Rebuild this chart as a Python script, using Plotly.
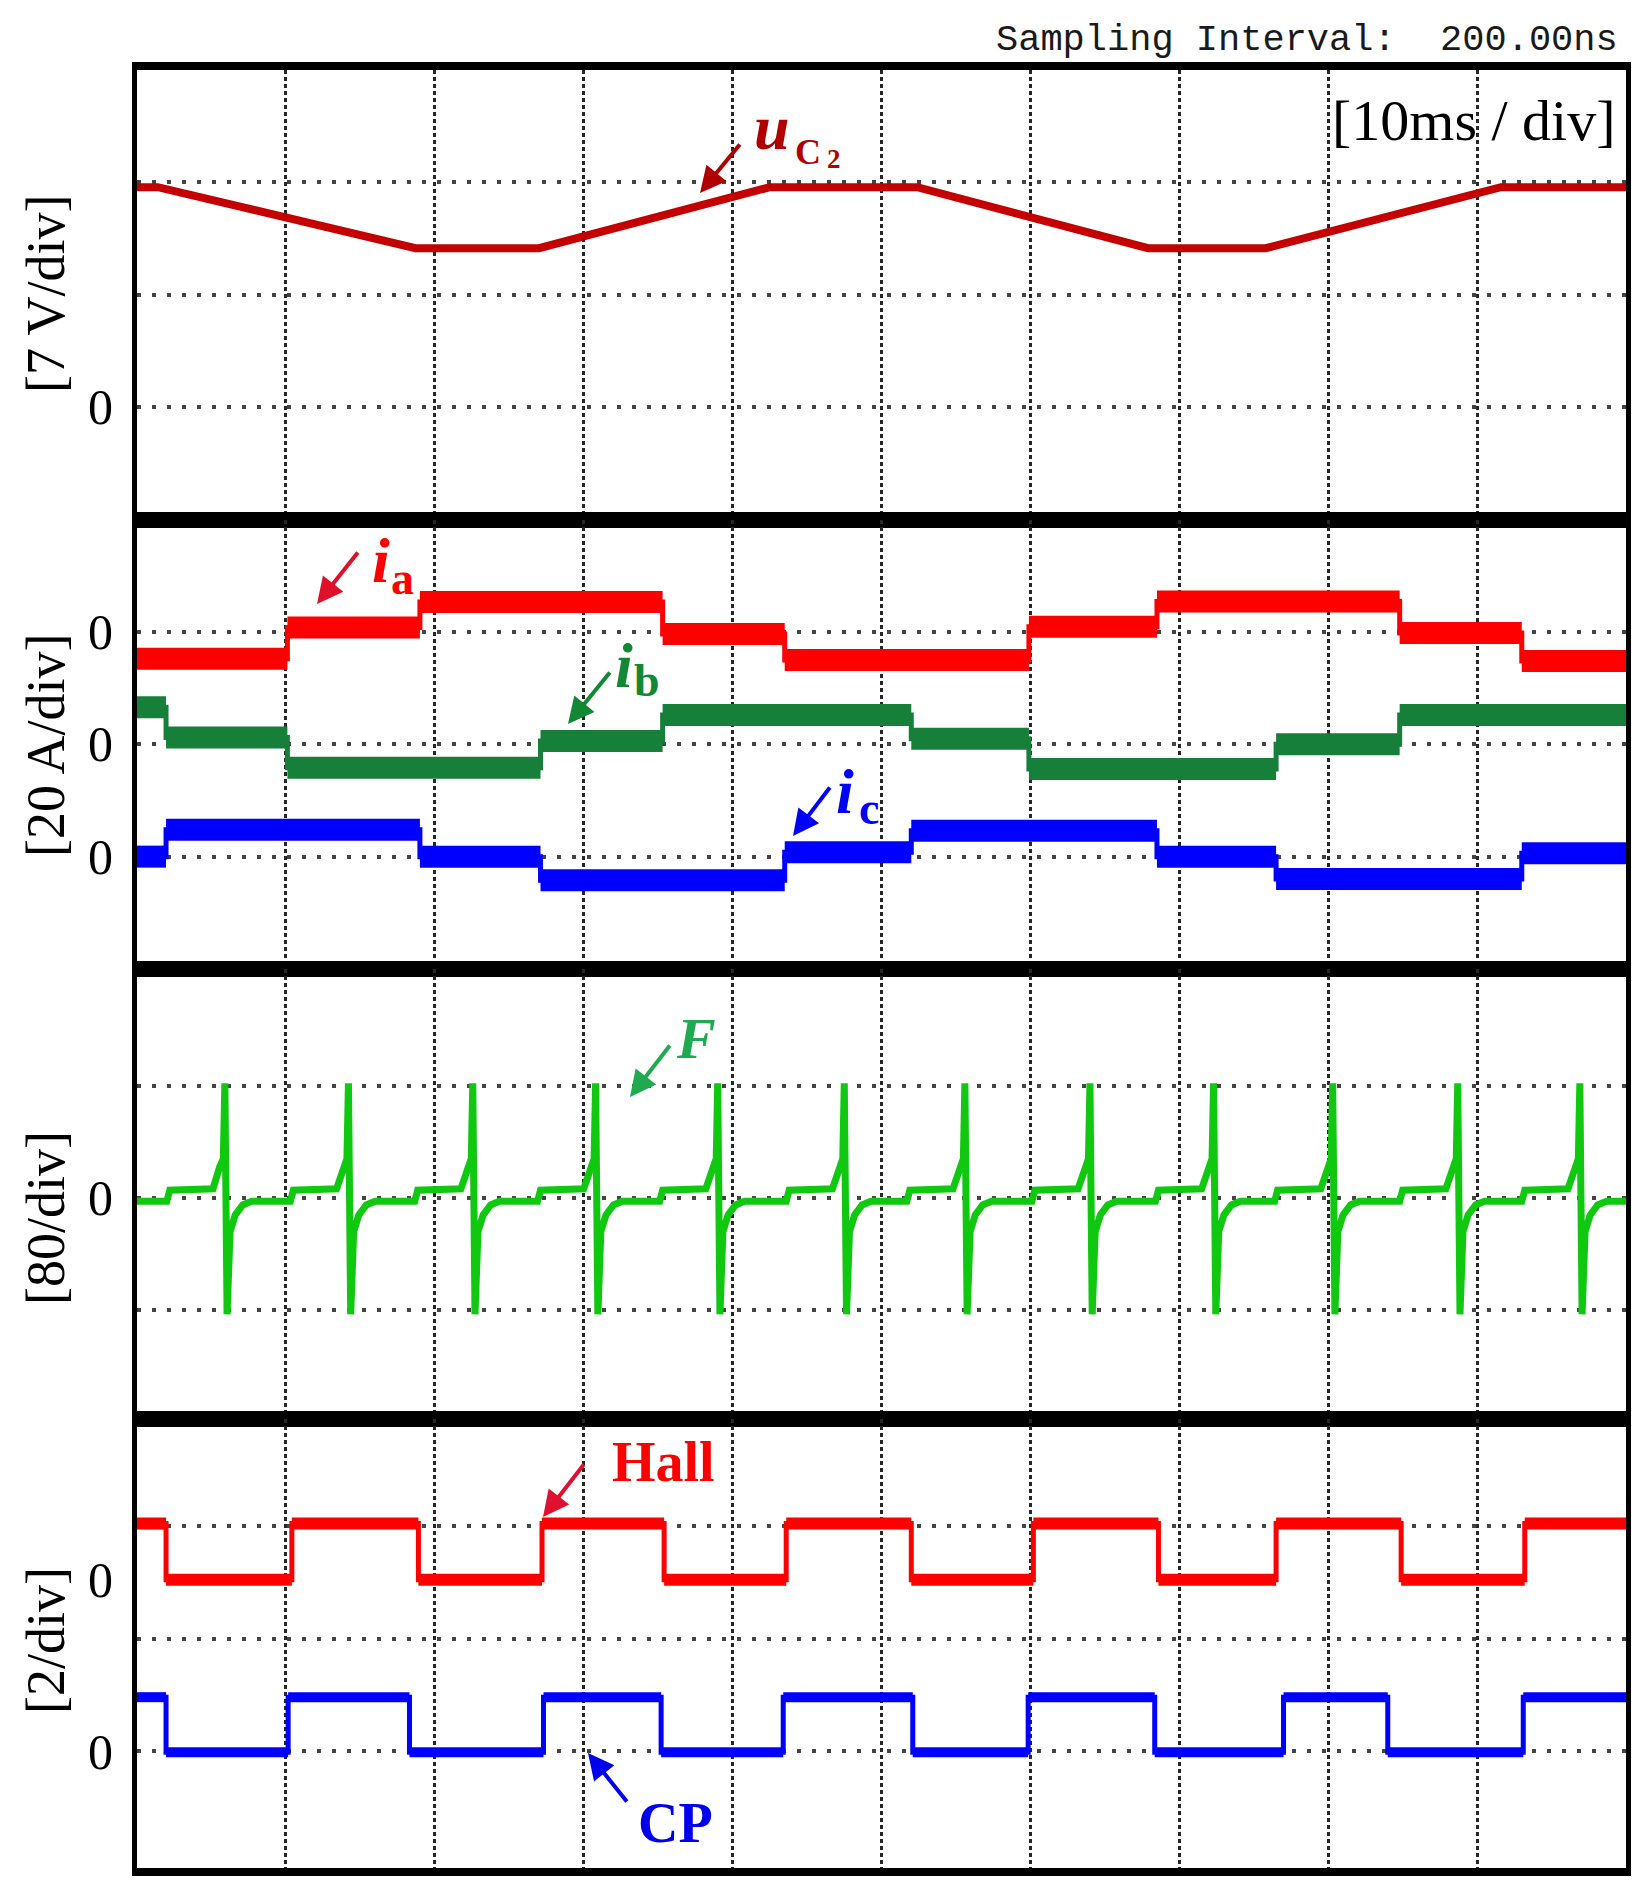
import plotly.graph_objects as go
from plotly.subplots import make_subplots

# ---------------- data ----------------
# time axis: 0..100 ms, 10 ms/div
T_RANGE = [0, 100]

# Panel 1: capacitor voltage u_C2 (V), 7 V/div
uc2_t = [0, 1.4, 18.7, 27.0, 42.5, 52.4, 67.9, 75.8, 91.6, 100]
uc2_v = [13.7, 13.7, 9.9, 9.9, 13.7, 13.7, 9.9, 9.9, 13.7, 13.7]

# Panel 2: phase currents (A), 20 A/div - six-step levels between commutation instants
cur_edges = [1.95, 10.1, 19.0, 27.1, 35.3, 43.5, 52.0, 59.9, 68.5, 76.5, 84.8, 93.0]
ia = [-4.8, -4.8, 0.8, 5.3, 5.3, -0.4, -5.0, -5.0, 0.9, 5.4, 5.4, -0.2, -5.2]
ib = [6.6, 1.2, -4.2, -4.2, 0.6, 5.2, 5.2, 1.0, -4.4, -4.4, 0.0, 5.2, 5.2]
ic = [0.0, 4.8, 4.8, 0.0, -4.2, -4.2, 0.8, 4.6, 4.6, 0.0, -4.0, -4.0, 0.6]

# Panel 3: signal F (80/div): spike instants and one read pulse shape around a spike
f_spike_t = [5.9, 14.2, 22.55, 30.8, 39.0, 47.5, 55.6, 64.0, 72.3, 80.3, 88.7, 96.9]
f_base = -2.4
f_shape_dt = [-3.9, -3.7, -0.8, -0.35, -0.1, 0.0, 0.15, 0.35, 0.7, 1.2, 1.8]
f_shape_v = [-2.4, 5.5, 6.5, 22.0, 28.0, 81.6, -82.8, -24.0, -12.0, -5.0, -2.4]

# Panel 4: Hall and CP logic signals (2/div)
hall_edges = [1.95, 10.4, 18.9, 27.2, 35.4, 43.6, 52.0, 60.2, 68.6, 76.5, 84.9, 93.2]
hall = [1.0, 0.0, 1.0, 0.0, 1.0, 0.0, 1.0, 0.0, 1.0, 0.0, 1.0, 0.0, 1.0]
cp_edges = [1.95, 10.15, 18.3, 27.3, 35.2, 43.4, 52.1, 59.85, 68.35, 77.0, 84.0, 93.1]
cp = [0.98, 0.0, 0.98, 0.0, 0.98, 0.0, 0.98, 0.0, 0.98, 0.0, 0.98, 0.0, 0.98]

# trace zero positions (screen offsets of each channel)
IA_ZERO, IB_ZERO, IC_ZERO = 20, 0, -20
HALL_ZERO, CP_ZERO = 5.05, 1.98

# axis ranges (4 div per panel) and dotted grid levels
ranges = [[-7, 21], [-40, 40], [-157, 163], [-0.08, 7.92]]
grids = [[0, 7, 14], [-20, 0, 20], [-80, 0, 80], [2, 4, 6]]
zero_labels = [[0], [IA_ZERO, IB_ZERO, IC_ZERO], [0], [HALL_ZERO, CP_ZERO]]
axis_titles = ["[7 V/div]", "[20 A/div]", "[80/div]", "[2/div]"]

# ---------------- layout geometry ----------------
W, H = 1647, 1899
ML, MR, MT, MB = 137, 21, 70, 31
PW = W - ML - MR
PH = H - MT - MB


def px(xp):
    return (xp - ML) / PW


def py(yp):
    return (H - MB - yp) / PH


def step_xy(edges, levels, offset=0.0):
    xs = [T_RANGE[0]] + list(edges) + [T_RANGE[1]]
    ys = [v + offset for v in levels] + [levels[-1] + offset]
    return xs, ys


def band_xy(edges, levels, offset=0.0):
    xs_b = [T_RANGE[0]] + list(edges) + [T_RANGE[1]]
    bx, by = [], []
    i, n = 0, len(levels)
    while i < n:
        j = i
        while j + 1 < n and levels[j + 1] == levels[i]:
            j += 1
        bx += [xs_b[i], xs_b[j + 1], None]
        by += [levels[i] + offset, levels[i] + offset, None]
        i = j + 1
    return bx, by


fig = make_subplots(rows=4, cols=1, shared_xaxes=True, vertical_spacing=0)

# Panel 1
fig.add_trace(go.Scatter(x=uc2_t, y=uc2_v, mode="lines",
                         line=dict(color="#C40000", width=8)), row=1, col=1)

# Panel 2
for sig, off, col in [(ia, IA_ZERO, "#FF0000"), (ib, IB_ZERO, "#167F3A"), (ic, IC_ZERO, "#0000FF")]:
    sx, sy = step_xy(cur_edges, sig, off)
    fig.add_trace(go.Scatter(x=sx, y=sy, mode="lines", line=dict(color=col, width=5, shape="hv")),
                  row=2, col=1)
    bx, by = band_xy(cur_edges, sig, off)
    fig.add_trace(go.Scatter(x=bx, y=by, mode="lines", line=dict(color=col, width=22)),
                  row=2, col=1)

# Panel 3
fx, fy = [T_RANGE[0]], [f_base]
for ts in f_spike_t:
    for dt, v in zip(f_shape_dt, f_shape_v):
        fx.append(ts + dt)
        fy.append(v)
fx.append(T_RANGE[1])
fy.append(f_base)
fig.add_trace(go.Scatter(x=fx, y=fy, mode="lines", line=dict(color="#10C810", width=7)), row=3, col=1)

# Panel 4
for edges, sig, off, col, bw in [(hall_edges, hall, HALL_ZERO, "#FF0000", 12),
                                  (cp_edges, cp, CP_ZERO, "#0000FF", 10)]:
    sx, sy = step_xy(edges, sig, off)
    fig.add_trace(go.Scatter(x=sx, y=sy, mode="lines", line=dict(color=col, width=5, shape="hv")),
                  row=4, col=1)
    bx, by = band_xy(edges, sig, off)
    fig.add_trace(go.Scatter(x=bx, y=by, mode="lines", line=dict(color=col, width=bw)),
                  row=4, col=1)

fig.update_xaxes(range=T_RANGE, tick0=0, dtick=10, showgrid=True, gridcolor="#262626",
                 griddash="4px,3px", gridwidth=2.5, showticklabels=False, ticks="",
                 showline=True, linecolor="black", linewidth=8, mirror=True, zeroline=False)
for r in range(4):
    fig.update_yaxes(range=ranges[r], tickmode="array", tickvals=grids[r], showgrid=True,
                     gridcolor="#444444", griddash="4px,11px", gridwidth=4,
                     showticklabels=False, ticks="", showline=True, linecolor="black",
                     linewidth=5, mirror=True, zeroline=False, row=r + 1, col=1)

ann = []
serif = "Liberation Serif"

# header texts
ann.append(dict(text="Sampling Interval:\u00a0\u00a0200.00ns", xref="paper", yref="paper",
                x=px(1620), y=py(40), xanchor="right", yanchor="middle", showarrow=False,
                font=dict(family="Liberation Mono", size=37, color="#1a1a1a")))
ann.append(dict(text="[10ms / div]", xref="paper", yref="paper", x=px(1618), y=py(121),
                xanchor="right", yanchor="middle", showarrow=False,
                font=dict(family=serif, size=58, color="black")))

# rotated channel scale labels
title_y = [294, 745, 1218, 1641]
for t, yc in zip(axis_titles, title_y):
    ann.append(dict(text=t, xref="paper", yref="paper", x=px(46), y=py(yc), textangle=-90,
                    xanchor="center", yanchor="middle", showarrow=False,
                    font=dict(family=serif, size=54, color="black")))

# zero markers
yrefs = ["y", "y2", "y3", "y4"]
for r in range(4):
    for z in zero_labels[r]:
        ann.append(dict(text="0", xref="paper", yref=yrefs[r], x=px(100), y=z,
                        xanchor="center", yanchor="middle", showarrow=False,
                        font=dict(family=serif, size=50, color="black")))


def arrow(tail, head, color):
    ann.append(dict(text="", xref="paper", yref="paper", x=px(head[0]), y=py(head[1]),
                    ax=tail[0] - head[0], ay=tail[1] - head[1], axref="pixel", ayref="pixel",
                    showarrow=True, arrowhead=2, arrowsize=1.3, arrowwidth=4,
                    arrowcolor=color, standoff=0))


def label(text, xc, yc, size, color):
    ann.append(dict(text=text, xref="paper", yref="paper", x=px(xc), y=py(yc),
                    xanchor="center", yanchor="middle", showarrow=False,
                    font=dict(family=serif, size=size, color=color)))


# u_C2
arrow((741, 143), (700, 193), "#B00000")
label("<b><i>u</i></b>", 772, 128, 64, "#B00000")
label("<b>C</b>", 808, 152, 36, "#B00000")
label("<b>2</b>", 834, 159, 27, "#B00000")
# i_a
arrow((359, 551), (317, 604), "#E0102A")
label("<b><i>i</i></b>", 381, 560, 64, "#FF0000")
label("<b>a</b>", 402, 578, 46, "#FF0000")
# i_b
arrow((611, 671), (568, 724), "#118833")
label("<b><i>i</i></b>", 624, 665, 64, "#118833")
label("<b>b</b>", 647, 680, 46, "#118833")
# i_c
arrow((831, 786), (793, 836), "#0000FF")
label("<b><i>i</i></b>", 845, 792, 64, "#0000FF")
label("<b>c</b>", 869, 808, 46, "#0000FF")
# F
arrow((671, 1044), (630, 1097), "#20AA50")
label("<b><i>F</i></b>", 696, 1038, 58, "#20AA50")
# Hall
arrow((585, 1463), (543, 1517), "#E01030")
label("<b>Hall</b>", 663, 1462, 56, "#FF0000")
# CP
arrow((628, 1803), (588, 1753), "#0000EE")
label("<b>CP</b>", 675, 1823, 56, "#0000EE")

fig.update_layout(width=W, height=H, margin=dict(l=ML, r=MR, t=MT, b=MB),
                  paper_bgcolor="white", plot_bgcolor="white", showlegend=False,
                  font=dict(family=serif), annotations=ann)

fig.write_html("out.html", config={"displayModeBar": False},
               post_script="document.body.style.margin='0px';")
